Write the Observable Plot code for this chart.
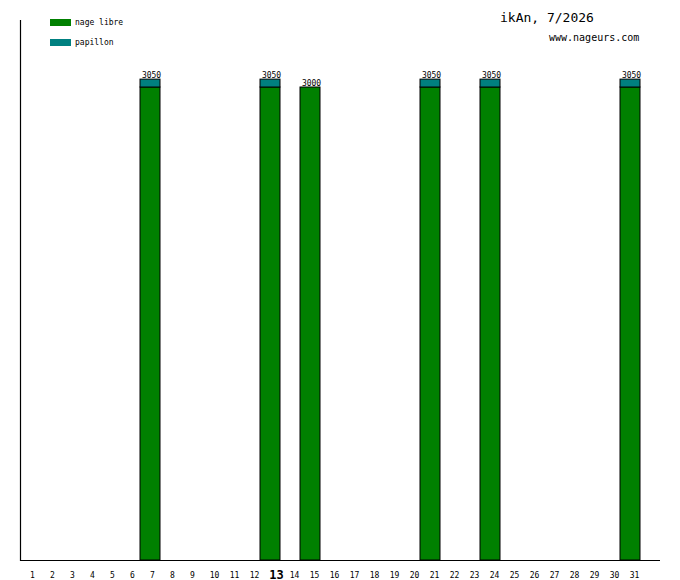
<!DOCTYPE html>
<html>
<head>
<meta charset="utf-8">
<script src="https://cdn.jsdelivr.net/npm/d3@7"></script>
<script src="https://cdn.jsdelivr.net/npm/@observablehq/plot@0.6"></script>
<style>
  body { margin: 0; background: #fff; }
  #wrap { position: relative; width: 680px; height: 580px; font-family: "DejaVu Sans Mono", monospace; }
  #wrap svg { position: absolute; left: 0; top: 0; }
  .leg { position: absolute; left: 50px; display: flex; align-items: center; font-size: 8px; color: #000; }
  .sw { width: 21px; height: 7px; margin-right: 4px; }
  #title { position: absolute; left: 500px; top: 10px; font-size: 13px; }
  #sub { position: absolute; left: 549px; top: 32px; font-size: 10px; }
</style>
</head>
<body>
<div id="wrap"></div>
<script>
const allDays = d3.range(1, 32);
const days = [7, 13, 15, 21, 24, 31];
const seriesNames = ["nage libre", "papillon"];
const seriesColors = ["#008000", "#008080"];
const nageLibre = [3000, 3000, 3000, 3000, 3000, 3000];
const papillon = [50, 50, 0, 50, 50, 50];
const currentDay = 13;
const yMax = 3425;

const rows = [];
days.forEach((d, i) => { if (nageLibre[i] > 0) rows.push({day: d, series: seriesNames[0], value: nageLibre[i]}); });
days.forEach((d, i) => { if (papillon[i] > 0) rows.push({day: d, series: seriesNames[1], value: papillon[i]}); });
const totals = days.map((d, i) => ({day: d, total: nageLibre[i] + papillon[i]}));
const otherDays = allDays.filter(d => d !== currentDay);

const chart = Plot.plot({
  width: 680,
  height: 580,
  marginLeft: 20,
  marginRight: 20,
  marginTop: 20,
  marginBottom: 20,
  style: {fontFamily: "DejaVu Sans Mono, monospace", background: "transparent"},
  x: {type: "band", domain: allDays, padding: 0, range: [20, 640], round: false, axis: null},
  y: {domain: [0, yMax], axis: null},
  color: {domain: seriesNames, range: seriesColors},
  marks: [
    Plot.barY(rows, {x: "day", y: "value", fill: "series", z: "series", stroke: "black", strokeWidth: 1}),
    Plot.text(totals, {x: "day", y: "total", text: d => String(d.total), lineAnchor: "bottom", dy: -2, dx: 1, fontSize: 8, fill: "black"}),
    Plot.text(otherDays.filter(d => d < 10), {x: d => d, frameAnchor: "bottom", lineAnchor: "bottom", dy: 17, dx: 2, text: d => String(d), fontSize: 8, fill: "black"}),
    Plot.text(otherDays.filter(d => d >= 10), {x: d => d, frameAnchor: "bottom", lineAnchor: "bottom", dy: 17, dx: 4, text: d => String(d), fontSize: 8, fill: "black"}),
    Plot.text([currentDay], {x: d => d, frameAnchor: "bottom", lineAnchor: "bottom", dy: 18, dx: 6, text: d => String(d), fontSize: 12, fontWeight: "bold", fill: "black"}),
    Plot.ruleY([0], {stroke: "black", strokeWidth: 1.2}),
    Plot.frame({anchor: "left", stroke: "black", strokeWidth: 1.2})
  ]
});

const wrap = document.getElementById("wrap");
wrap.appendChild(chart);

seriesNames.forEach((name, i) => {
  const el = document.createElement("div");
  el.className = "leg";
  el.style.top = (18 + i * 20) + "px";
  el.innerHTML = `<div class="sw" style="background:${seriesColors[i]}"></div><span>${name}</span>`;
  wrap.appendChild(el);
});
const t = document.createElement("div"); t.id = "title"; t.textContent = "ikAn, 7/2026"; wrap.appendChild(t);
const s = document.createElement("div"); s.id = "sub"; s.textContent = "www.nageurs.com"; wrap.appendChild(s);
</script>
</body>
</html>
